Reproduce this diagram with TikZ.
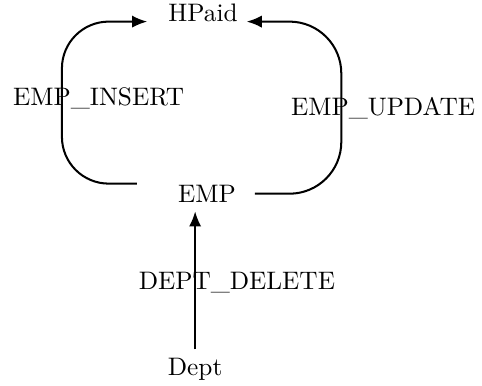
\documentclass[tikz,border=0pt]{standalone}
\usepackage{tikz}
\usetikzlibrary{arrows.meta, positioning, calc}

\begin{document}
\begin{tikzpicture}[
    flow/.style={thick, -{Latex[length=2.1mm, width=1.7mm]}},
    lbl/.style={font=\normalsize}
  ]
  \useasboundingbox (0,0) rectangle (6.694,-5.347);

  % Relations
  \node[lbl] (hpaid) at (2.82,-0.18) {HPaid};
  \node[lbl] (emp)   at (2.875,-2.69) {EMP};
  \node[lbl] (dept)  at (2.71,-5.13) {Dept};

  % Trigger labels
  \node[lbl] (ins) at (1.37,-1.36) {EMP\_INSERT};
  \node[lbl] (upd) at (5.32,-1.50) {EMP\_UPDATE};
  \node[lbl] (del) at (3.29,-3.92) {DEPT\_DELETE};

  % Loop ends and sides
  \coordinate (insA) at ($(emp.west)+(-0.45,0.14)$);
  \coordinate (updA) at ($(emp.east)+(0.14,0)$);
  \coordinate (insX) at (0.86,0);
  \coordinate (updX) at (4.74,0);

  % Triggers
  \draw[flow, rounded corners=0.65cm, shorten >=0.17cm]
       (insA) -- (insA -| insX) |- (hpaid.base west);
  \draw[flow, rounded corners=0.72cm]
       (updA) -- (updA -| updX) |- (hpaid.base east);
  \draw[flow] (dept.north) -- (dept.north |- emp.south);
\end{tikzpicture}
\end{document}
